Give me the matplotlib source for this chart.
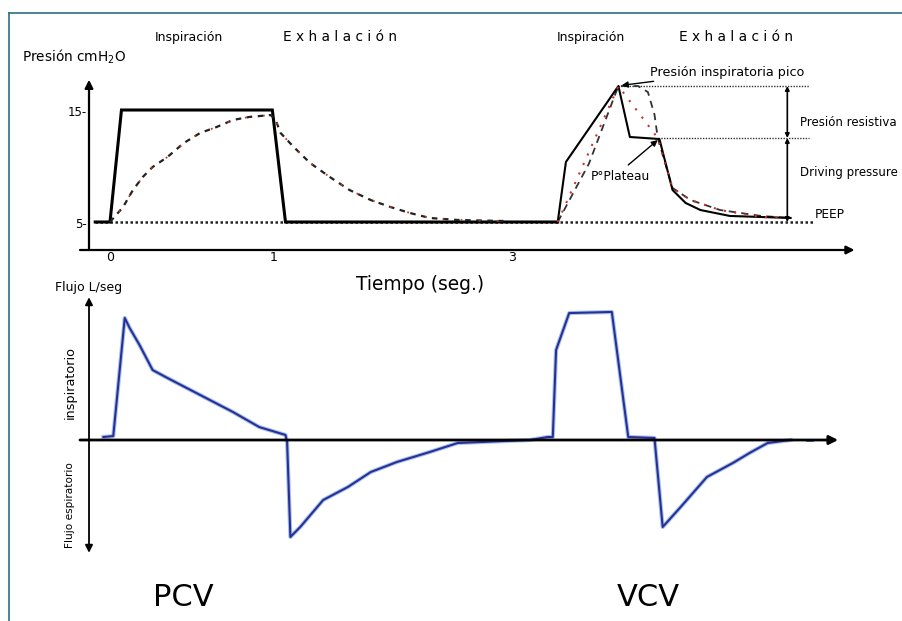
import matplotlib
matplotlib.use("Agg")
import matplotlib.pyplot as plt
from matplotlib.lines import Line2D

plt.rcParams['font.family'] = ['DejaVu Sans']

# ---------------- data (schematic units) ----------------
# Pressure (cmH2O) vs time
pcv_solid_t = [-0.09, 0.00, 0.07, 0.99, 1.07, 2.73]
pcv_solid_p = [5, 5, 15, 15, 5, 5]
vcv_solid_t = [2.73, 2.78, 3.10, 3.17, 3.35, 3.43, 3.51, 3.60, 3.78, 4.15]
vcv_solid_p = [5, 10.36, 17.14, 12.59, 12.41, 7.86, 6.70, 6.07, 5.54, 5.36]

pcv_curve_t = [0.00, 0.08, 0.14, 0.20, 0.26, 0.35, 0.45, 0.55, 0.65, 0.75,
               0.85, 0.98, 1.01, 1.04, 1.12, 1.22, 1.34, 1.46, 1.59, 1.71,
               1.83, 1.95, 2.12, 2.40]
pcv_curve_p = [5.0, 6.34, 7.86, 9.02, 9.91, 10.80, 12.05, 12.95, 13.48, 14.11,
               14.38, 14.55, 14.11, 12.95, 11.70, 10.27, 9.02, 7.86, 6.96, 6.34,
               5.80, 5.36, 5.18, 5.09]

vcv_dash_t = [2.73, 2.92, 3.10, 3.22, 3.28, 3.32, 3.34, 3.43, 3.54, 3.72, 3.97, 4.15]
vcv_dash_p = [5, 10.2, 17.14, 17.14, 16.6, 14.6, 12.5, 8.04, 6.96, 6.07, 5.54, 5.36]

vcv_red_t = [2.73, 3.10, 3.34, 3.43, 3.54, 3.72, 3.97, 4.08]
vcv_red_p = [5, 17.14, 12.5, 8.04, 6.96, 6.07, 5.45, 5.40]

peep = 5
p_peak = 17.14
p_plateau = 12.5

x_ticks = [0, 1, 2.45]
x_tick_labels = ['0', '1', '3']
y_ticks = [15, 5]
y_tick_labels = ['15-', '5-']

# Flow (L/s) vs time
flow_t = [-0.04, 0.02, 0.09, 0.12, 0.18, 0.26, 0.35, 0.55, 0.75, 0.91, 1.07,
          1.08, 1.10, 1.16, 1.30, 1.45, 1.59, 1.75, 1.95, 2.12, 2.26, 2.56,
          2.67, 2.70, 2.72, 2.80, 3.06, 3.16, 3.32, 3.37, 3.48, 3.64, 3.80,
          3.90, 4.01, 4.15]
flow_f = [0.025, 0.033, 1.017, 0.933, 0.792, 0.583, 0.517, 0.375, 0.233, 0.108,
          0.042, -0.017, -0.808, -0.725, -0.50, -0.392, -0.267, -0.183, -0.10,
          -0.025, -0.017, 0.0, 0.025, 0.025, 0.75, 1.058, 1.067, 0.025, 0.017,
          -0.725, -0.558, -0.308, -0.19, -0.108, -0.025, 0.0]

# ---------------- figure ----------------
W, H = 902, 621
fig = plt.figure(figsize=(W / 100, H / 100), dpi=100)
fig.patch.set_facecolor('white')

XL = (-0.6707, 4.8293)

# top axes covers pixel rows 20..268
axp = fig.add_axes([0, 1 - 268 / H, 1, 248 / H])
axp.set_xlim(*XL)
axp.set_ylim(0.893, 23.036)
axp.axis('off')

# bottom axes covers pixel rows 285..621
axf = fig.add_axes([0, 0, 1, 336 / H])
axf.set_xlim(*XL)
axf.set_ylim(-1.5083, 1.2917)
axf.axis('off')

# frame (teal)
fig.add_artist(Line2D([9 / W, 1], [1 - 13 / H, 1 - 13 / H], color='#2f6f80', lw=1.2,
                      transform=fig.transFigure))
fig.add_artist(Line2D([9 / W, 9 / W], [0, 1 - 13 / H], color='#2f6f80', lw=1.2,
                      transform=fig.transFigure))

ax_x0 = -0.128
# --- pressure axes lines ---
axp.annotate('', xy=(ax_x0, 17.7), xytext=(ax_x0, 2.5),
             arrowprops=dict(arrowstyle='-|>', color='black', lw=1.6,
                             mutation_scale=12, shrinkA=0, shrinkB=0))
axp.annotate('', xy=(4.54, 2.5), xytext=(-0.183, 2.5),
             arrowprops=dict(arrowstyle='-|>', color='black', lw=1.6,
                             mutation_scale=12, shrinkA=0, shrinkB=0))

# dotted reference lines
axp.plot([-0.09, 4.30], [peep, peep], color='#222222', lw=1.8, ls=(0, (1, 1)))
axp.plot([3.10, 4.26], [p_peak, p_peak], color='#333333', lw=1.0, ls=(0, (1, 1)))
axp.plot([3.34, 4.26], [p_plateau, p_plateau], color='#333333', lw=1.0, ls=(0, (1, 1)))

# curves
axp.plot(pcv_solid_t, pcv_solid_p, color='black', lw=2.2, solid_joinstyle='miter')
axp.plot(pcv_curve_t, pcv_curve_p, color='#222222', lw=1.6, ls=(0, (2.5, 2.5)))
axp.plot(pcv_curve_t, pcv_curve_p, color='#c0392b', lw=1.3, ls=(2.5, (1, 9)))
axp.plot(vcv_dash_t, vcv_dash_p, color='#333333', lw=1.3, ls=(0, (4, 3)))
axp.plot(vcv_solid_t, vcv_solid_p, color='black', lw=1.5)
axp.plot(vcv_red_t, vcv_red_p, color='#d0302a', lw=1.5, ls=(0, (1, 4)))

# double arrows
xa = 4.13
axp.annotate('', xy=(xa, p_peak), xytext=(xa, p_plateau),
             arrowprops=dict(arrowstyle='<|-|>', color='black', lw=1.2,
                             mutation_scale=6, shrinkA=0, shrinkB=0))
axp.annotate('', xy=(xa, p_plateau), xytext=(xa, peep),
             arrowprops=dict(arrowstyle='<|-|>', color='black', lw=1.2,
                             mutation_scale=6, shrinkA=0, shrinkB=0))

# annotations
axp.annotate('Presión inspiratoria pico', xy=(3.12, 17.2), xytext=(3.29, 18.39),
             fontsize=9.2, va='center', ha='left',
             arrowprops=dict(arrowstyle='-|>', color='black', lw=1.0,
                             mutation_scale=9, shrinkA=0, shrinkB=0))
axp.text(2.93, 9.1, 'P°Plateau', fontsize=8.8, va='center', ha='left')
axp.annotate('', xy=(3.34, 12.32), xytext=(3.16, 10.09),
             arrowprops=dict(arrowstyle='-|>', color='black', lw=1.0,
                             mutation_scale=9, shrinkA=0, shrinkB=0))
axp.text(4.21, 13.84, 'Presión resistiva', fontsize=8.5, va='center', ha='left')
axp.text(4.21, 9.46, 'Driving pressure', fontsize=8.5, va='center', ha='left')
axp.text(4.30, 5.63, 'PEEP', fontsize=8.7, va='center', ha='left')

# headers
axp.text(0.48, 21.5, 'Inspiración', fontsize=9, ha='center', va='center')
axp.text(1.40, 21.5, 'E x h a l a c i ó n', fontsize=9.9, ha='center', va='center')
axp.text(2.93, 21.5, 'Inspiración', fontsize=9, ha='center', va='center')
axp.text(3.82, 21.5, 'E x h a l a c i ó n', fontsize=9.9, ha='center', va='center')
axp.text(-0.537, 19.73, 'Presión cmH$_2$O', fontsize=9.8, ha='left', va='center')

for t, lab in zip(x_ticks, x_tick_labels):
    axp.text(t, 1.85, lab, fontsize=9, ha='center', va='center')
for p, lab in zip(y_ticks, y_tick_labels):
    axp.text(-0.14, p - 0.2, lab, fontsize=8.5, ha='right', va='center')

axp.text(1.89, -0.55, 'Tiempo (seg.)', fontsize=13.4, ha='center', va='center')

# --- flow axes ---
axf.annotate('', xy=(ax_x0, 1.19), xytext=(ax_x0, -0.94),
             arrowprops=dict(arrowstyle='<|-|>', color='black', lw=1.3,
                             mutation_scale=11, shrinkA=0, shrinkB=0))
axf.annotate('', xy=(4.44, 0), xytext=(-0.183, 0),
             arrowprops=dict(arrowstyle='-|>', color='black', lw=2.0,
                             mutation_scale=13, shrinkA=0, shrinkB=0))

axf.plot(flow_t, flow_f, color='#6a9be0', lw=3.0, alpha=0.6)
axf.plot(flow_t, flow_f, color='#2a2f96', lw=1.5)
axf.plot([4.25, 4.28], [0.0, 0.0], color='#3a6fd0', lw=2.0)

axf.text(-0.335, 1.275, 'Flujo L/seg', fontsize=9, ha='left', va='center')
axf.text(-0.244, 0.483, 'inspiratorio', fontsize=9.2, rotation=90,
         ha='center', va='center')
axf.text(-0.244, -0.54, 'Flujo espiratorio', fontsize=7.6, rotation=90,
         ha='center', va='center')

axf.text(0.45, -1.31, 'PCV', fontsize=22, ha='center', va='center')
axf.text(3.28, -1.31, 'VCV', fontsize=22, ha='center', va='center')

fig.savefig('out.png', dpi=100, facecolor='white')
